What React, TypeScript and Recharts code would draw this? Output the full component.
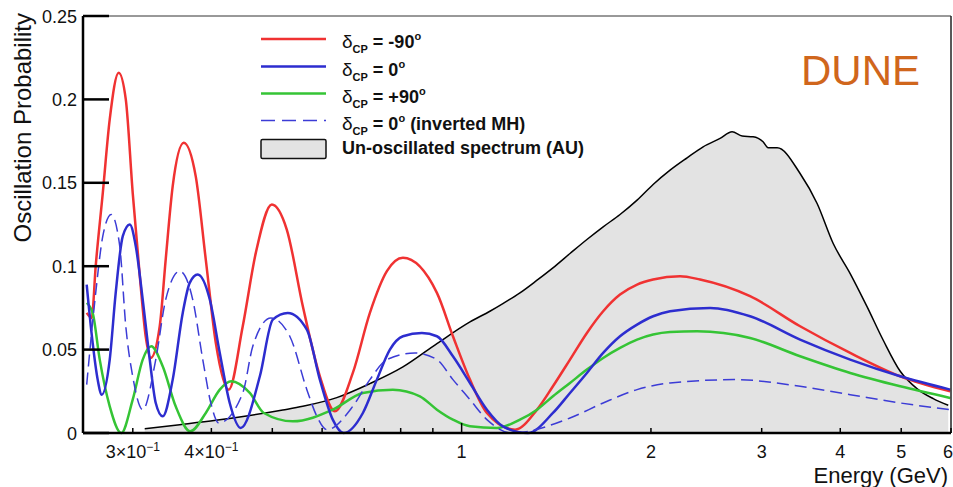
// DUNE oscillation probability vs energy (log x), Recharts version

import { ComposedChart, Line, Area, XAxis, YAxis, ReferenceLine, Legend } from 'recharts';

const FONT = '"Liberation Sans", Arial, Helvetica, sans-serif';

// ── data (energy in GeV, probability) ──
const redE = [0.2534, 0.2581, 0.2619, 0.2688, 0.2757, 0.2849, 0.2924, 0.2999, 0.3078, 0.3145, 0.3203, 0.3311, 0.3384, 0.3472, 0.3615, 0.3777, 0.3919, 0.4066, 0.4263, 0.4487, 0.4707, 0.4991, 0.5272, 0.5591, 0.5951, 0.6285, 0.6714, 0.7147, 0.7606, 0.8066, 0.9135, 0.9687, 1.031, 1.097, 1.216, 1.318, 1.397, 1.487, 1.582, 1.679, 1.786, 1.901, 2.016, 2.225, 2.394, 2.875, 3.453, 4.148, 4.982, 5.983];
const redP = [0.072, 0.069, 0.1, 0.144, 0.188, 0.216, 0.2, 0.144, 0.094, 0.058, 0.045, 0.064, 0.104, 0.148, 0.174, 0.154, 0.104, 0.054, 0.026, 0.064, 0.108, 0.137, 0.122, 0.076, 0.034, 0.013, 0.036, 0.072, 0.097, 0.105, 0.084, 0.058, 0.032, 0.012, 0.002, 0.014, 0.028, 0.044, 0.06, 0.073, 0.083, 0.089, 0.092, 0.094, 0.092, 0.082, 0.064, 0.048, 0.034, 0.025];

const blueE = [0.2534, 0.259, 0.2638, 0.2678, 0.2757, 0.2818, 0.2892, 0.2967, 0.3033, 0.3111, 0.3192, 0.3263, 0.3347, 0.3472, 0.3602, 0.3695, 0.3805, 0.3977, 0.4125, 0.4278, 0.4454, 0.4777, 0.5009, 0.5291, 0.5674, 0.5951, 0.6239, 0.6494, 0.6966, 0.7332, 0.769, 0.8066, 0.8646, 0.9135, 0.9687, 1.031, 1.097, 1.163, 1.275, 1.397, 1.487, 1.582, 1.679, 1.786, 1.901, 2.016, 2.145, 2.484, 2.875, 3.453, 4.148, 4.982, 5.983];
const blueP = [0.089, 0.054, 0.032, 0.023, 0.044, 0.084, 0.118, 0.125, 0.112, 0.08, 0.044, 0.018, 0.01, 0.032, 0.072, 0.09, 0.095, 0.08, 0.048, 0.018, 0.003, 0.034, 0.068, 0.072, 0.062, 0.032, 0.008, 0.0, 0.012, 0.032, 0.05, 0.058, 0.06, 0.058, 0.046, 0.03, 0.014, 0.004, 0.0, 0.012, 0.024, 0.036, 0.048, 0.058, 0.065, 0.07, 0.073, 0.075, 0.07, 0.056, 0.044, 0.034, 0.026];

const greenE = [0.2534, 0.259, 0.2658, 0.2757, 0.2876, 0.2999, 0.3111, 0.3209, 0.3347, 0.351, 0.3702, 0.3919, 0.4125, 0.4302, 0.4604, 0.4847, 0.5389, 0.6239, 0.6966, 0.7775, 0.8584, 0.9135, 0.9687, 1.031, 1.138, 1.238, 1.318, 1.397, 1.487, 1.582, 1.679, 1.786, 1.901, 2.016, 2.145, 2.368, 2.875, 3.453, 4.148, 4.982, 5.983];
const greenP = [0.078, 0.072, 0.044, 0.016, 0.0, 0.02, 0.044, 0.052, 0.04, 0.016, 0.001, 0.012, 0.026, 0.031, 0.024, 0.012, 0.007, 0.014, 0.024, 0.026, 0.022, 0.014, 0.008, 0.004, 0.003, 0.008, 0.014, 0.022, 0.03, 0.038, 0.045, 0.051, 0.056, 0.059, 0.0605, 0.061, 0.057, 0.046, 0.036, 0.028, 0.021];

const invE = [0.2534, 0.2619, 0.2688, 0.2772, 0.286, 0.2924, 0.2999, 0.3111, 0.3263, 0.3384, 0.3562, 0.3736, 0.3876, 0.3992, 0.411, 0.4487, 0.4655, 0.4973, 0.533, 0.5674, 0.5886, 0.6104, 0.6714, 0.7147, 0.7606, 0.8425, 0.9135, 0.9687, 1.031, 1.097, 1.202, 1.487, 1.679, 1.901, 2.145, 2.722, 3.453, 4.148, 4.982, 5.983];
const invP = [0.029, 0.084, 0.118, 0.131, 0.112, 0.064, 0.034, 0.014, 0.044, 0.08, 0.097, 0.08, 0.044, 0.018, 0.006, 0.024, 0.052, 0.069, 0.058, 0.026, 0.01, 0.002, 0.016, 0.032, 0.044, 0.048, 0.044, 0.032, 0.02, 0.008, 0.0, 0.009, 0.018, 0.026, 0.03, 0.032, 0.028, 0.023, 0.018, 0.014];

const specE = [0.3134, 0.3562, 0.4066, 0.4604, 0.5195, 0.5591, 0.6331, 0.7147, 0.8066, 0.9135, 1.031, 1.109, 1.163, 1.238, 1.318, 1.397, 1.487, 1.582, 1.679, 1.786, 1.901, 2.016, 2.145, 2.283, 2.421, 2.576, 2.692, 2.793, 2.907, 3.015, 3.071, 3.175, 3.453, 3.675, 3.898, 4.148, 4.414, 4.682, 4.982, 5.302, 5.622, 5.94];
const specP = [0.0026, 0.005, 0.0076, 0.0105, 0.0138, 0.016, 0.0212, 0.0296, 0.0396, 0.0536, 0.0666, 0.073, 0.0776, 0.084, 0.0916, 0.099, 0.1076, 0.116, 0.1236, 0.131, 0.1396, 0.149, 0.1576, 0.165, 0.1716, 0.1766, 0.1806, 0.178, 0.1776, 0.1746, 0.171, 0.171, 0.1556, 0.1376, 0.1136, 0.0956, 0.0756, 0.0556, 0.037, 0.0265, 0.0206, 0.0166];

const xTicks = [0.3, 0.4, 0.5, 0.6, 0.7, 0.8, 0.9, 1, 2, 3, 4, 5, 6];
const xTickBase = ['3×10', '4×10', '', '', '', '', '', '1', '2', '3', '4', '5', '6'];
const xTickExp = ['−1', '−1', '', '', '', '', '', '', '', '', '', '', ''];
const yTicks = [0, 0.05, 0.1, 0.15, 0.2, 0.25];

const legendValues = ['-90', '0', '+90', '0'];
const legendSuffix = ['', '', '', ' (inverted MH)'];

const RED = '#f03232';
const BLUE = '#2d2dcf';
const GREEN = '#35c435';
const DASH = '#3c3cd6';

const legendStyles = [
  { color: RED, dash: undefined, width: 2.5 },
  { color: BLUE, dash: undefined, width: 2.5 },
  { color: GREEN, dash: undefined, width: 2.5 },
  { color: DASH, dash: '14 7', width: 1.5 },
];

const zip = (e: number[], p: number[]) => e.map((x, i) => ({ e: x, p: p[i] }));

const redData = zip(redE, redP);
const blueData = zip(blueE, blueP);
const greenData = zip(greenE, greenP);
const invData = zip(invE, invP);
const specData = zip(specE, specP);

function XTick({ x, y, payload }: any) {
  const i = xTicks.indexOf(payload.value);
  const base = xTickBase[i] ?? '';
  const exp = xTickExp[i] ?? '';
  // last label sits on the right frame edge; keep it inside the picture
  const last = i === xTicks.length - 1;
  return (
    <g>
      <line x1={x} x2={x} y1={y} y2={y - (payload.value === 1 ? 10 : 5)} stroke="#000" strokeWidth={1.5} />
      {base && (
        <text
          x={last ? x + 2 : x}
          y={y + 25}
          textAnchor={last ? 'end' : 'middle'}
          fontFamily={FONT}
          fontSize={18}
          fill="#111"
        >
          <tspan>{base}</tspan>
          {exp && (
            <tspan dy={-7} fontSize={12}>
              {exp}
            </tspan>
          )}
        </text>
      )}
    </g>
  );
}

function YTick({ x, y, payload }: any) {
  return (
    <g>
      <line x1={x} x2={x + 26} y1={y} y2={y} stroke="#000" strokeWidth={2.5} />
      <text x={x - 6} y={y + 6.5} textAnchor="end" fontFamily={FONT} fontSize={18} fill="#111">
        {String(payload.value)}
      </text>
    </g>
  );
}

function LegendBox() {
  const rowY = [39, 66.5, 93.5, 120.5];
  return (
    <svg width={953} height={170} style={{ display: 'block' }}>
      {legendValues.map((v, i) => (
        <g key={i}>
          <line
            x1={261}
            x2={326}
            y1={rowY[i]}
            y2={rowY[i]}
            stroke={legendStyles[i].color}
            strokeWidth={legendStyles[i].width}
            strokeDasharray={legendStyles[i].dash}
          />
          <text x={342} y={rowY[i] + 9} fontFamily={FONT} fontSize={18} fontWeight="bold" fill="#111">
            <tspan fontWeight="normal" fontSize={19}>δ</tspan>
            <tspan fontSize={11} dy={5}>CP</tspan>
            <tspan dy={-5}>{` = ${v}`}</tspan>
            <tspan fontSize={11} dy={-8}>o</tspan>
            {legendSuffix[i] && <tspan dy={8}>{legendSuffix[i]}</tspan>}
          </text>
        </g>
      ))}
      <rect x={261} y={139.5} width={65} height={19} rx={1.5} fill="#e3e3e3" stroke="#111" strokeWidth={1.5} />
      <text x={342} y={153.5} fontFamily={FONT} fontSize={18} fontWeight="bold" fill="#111">
        Un-oscillated spectrum (AU)
      </text>
    </svg>
  );
}

export default function App() {
  return (
    <div style={{ position: 'absolute', left: 0, top: 0, width: 953, height: 487, background: '#fff' }}>
      <ComposedChart width={953} height={487} margin={{ top: 16, right: 2, bottom: 0, left: 0 }}>
        <XAxis
          dataKey="e"
          type="number"
          scale="log"
          domain={[0.25, 6]}
          allowDataOverflow
          ticks={xTicks}
          interval={0}
          height={54}
          tickSize={0}
          tickMargin={0}
          tickLine={false}
          tick={<XTick />}
          axisLine={{ stroke: '#000', strokeWidth: 2.5 }}
          label={{
            content: () => (
              <text x={948} y={483} textAnchor="end" fontFamily={FONT} fontSize={22} fill="#111">
                Energy (GeV)
              </text>
            ),
          }}
        />
        <YAxis
          type="number"
          domain={[0, 0.25]}
          ticks={yTicks}
          interval={0}
          width={83}
          tickSize={0}
          tickMargin={0}
          tickLine={false}
          tick={<YTick />}
          axisLine={{ stroke: '#000', strokeWidth: 2.5 }}
          label={{
            content: () => (
              <text
                transform="translate(30.5, 13) rotate(-90)"
                textAnchor="end"
                fontFamily={FONT}
                fontSize={24}
                fill="#111"
              >
                Oscillation Probability
              </text>
            ),
          }}
        />
        <Legend
          layout="vertical"
          align="center"
          verticalAlign="middle"
          wrapperStyle={{ left: 0, top: 0, width: 953, height: 170, pointerEvents: 'none' }}
          content={() => <LegendBox />}
        />

        <Area
          data={specData}
          dataKey="p"
          type="monotone"
          stroke="#000"
          strokeWidth={1.5}
          fill="#e3e3e3"
          fillOpacity={1}
          dot={false}
          activeDot={false}
          isAnimationActive={false}
        />
        <Line data={redData} dataKey="p" type="monotone" stroke={RED} strokeWidth={2.5} dot={false} activeDot={false} isAnimationActive={false} />
        <Line data={greenData} dataKey="p" type="monotone" stroke={GREEN} strokeWidth={2.5} dot={false} activeDot={false} isAnimationActive={false} />
        <Line data={blueData} dataKey="p" type="monotone" stroke={BLUE} strokeWidth={2.5} dot={false} activeDot={false} isAnimationActive={false} />
        <Line
          data={invData}
          dataKey="p"
          type="monotone"
          stroke={DASH}
          strokeWidth={1.5}
          strokeDasharray="12 6"
          dot={false}
          activeDot={false}
          isAnimationActive={false}
        />

        {/* frame: top and right edges */}
        <ReferenceLine y={0.25} stroke="#333" strokeWidth={1} />
        <ReferenceLine x={6} stroke="#222" strokeWidth={1.5} />

        <text x={801} y={85} fontFamily={FONT} fontSize={42} fill="#d0661c">
          DUNE
        </text>
      </ComposedChart>
    </div>
  );
}
